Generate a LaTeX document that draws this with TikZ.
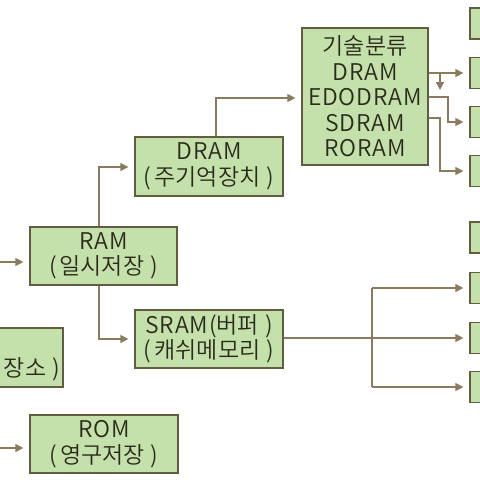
\documentclass[tikz,border=0pt]{standalone}
\usepackage{fontspec}
\setmainfont{Noto Sans CJK KR DemiLight}
\newfontfamily\lat[Scale=1.0,LetterSpace=4]{Noto Sans CJK KR DemiLight}
\usetikzlibrary{arrows.meta,calc}
\definecolor{boxfill}{HTML}{C4E1AC}
\definecolor{boxline}{HTML}{625C40}
\definecolor{arrowc}{HTML}{8B7A5C}
\definecolor{txt}{HTML}{2B2B1B}
\newcommand{\lp}{(\hspace{3pt}}
\newcommand{\rp}{\hspace{6pt})}
\begin{document}
\begin{tikzpicture}[x=1pt,y=-1pt,
  box/.style={draw=boxline, fill=boxfill, line width=1.3pt, inner sep=0pt, align=center,
    font=\fontsize{23}{25.5}\selectfont, text=txt},
  arr/.style={draw=arrowc, line width=1.3pt, -{Triangle[length=8pt,width=8pt]}, shorten >=6pt},
  ln/.style={draw=arrowc, line width=1.3pt}]
\useasboundingbox (0,0) rectangle (480,480);
\clip (0,0) rectangle (480,480);
% main boxes
\node[box, minimum width=147pt, minimum height=58pt] (ram) at (103.5,256) {{\lat RAM}\\\lp 일시저장\rp};
\node[box, minimum width=148pt, minimum height=59pt] (dram) at (209,166.5) {{\lat DRAM}\\\lp 주기억장치\rp};
\node[box, minimum width=148pt, minimum height=58pt] (sram) at (209,339) {{\lat SRAM(}버퍼\rp\\\lp 캐쉬메모리\rp};
\node[box, minimum width=148pt, minimum height=58pt] (rom) at (104,444) {{\lat ROM}\\\lp 영구저장\rp};
\node[box, minimum width=126pt, minimum height=137pt] (tech) at (365,96.5)
  {기술분류\\{\lat DRAM}\\{\lat EDODRAM}\\{\lat SDRAM}\\{\lat RORAM}};
\node[box, minimum width=148pt, minimum height=59pt] (left) at (-11,357.5) {};
\node[text=txt, font=\fontsize{23}{25.5}\selectfont, anchor=east, inner sep=0pt] (lefttxt) at (60,369) {장소\rp};
% right small boxes
\foreach \n/\y in {1/23.5,2/73,3/122,4/171,5/237.5,6/288,7/338,8/387}{
  \node[box, minimum width=40pt, minimum height=31pt] (b\n) at (490,\y) {};
}
% incoming arrows
\coordinate (in1) at (0,262);
\coordinate (in2) at (0,448);
\draw[arr] (in1) -- (in1 -| ram.west);
\draw[arr] (in2) -- (in2 -| rom.west);
% RAM branches
\coordinate (k1) at (99,167);
\coordinate (k2) at (99,339);
\draw[arr] (ram.north -| k1) -- (k1) -- (k1 -| dram.west);
\draw[arr] (ram.south -| k2) -- (k2) -- (k2 -| sram.west);
% DRAM to tech
\coordinate (k3) at (216,98);
\draw[arr] (dram.north -| k3) -- (k3) -- (k3 -| tech.west);
% tech to right boxes
\coordinate (j1) at (440,90);
\coordinate (j2) at (448,97);
\coordinate (j3) at (440,118);
\draw[arr] (tech.east |- b2) -- (b2.west);
\draw[arr, shorten >=0pt] (j1 |- b2) -- (j1);
\draw[arr] (tech.east |- j2) -- (j2) -- (j2 |- b3) -- (b3.west);
\draw[arr] (tech.east |- j3) -- (j3) -- (j3 |- b4) -- (b4.west);
% SRAM to right boxes
\coordinate (j4) at (372,338);
\draw[arr] (sram.east |- j4) -- (b7.west);
\draw[ln] (j4 |- b6) -- (j4 |- b8);
\draw[arr] (j4 |- b6) -- (b6.west);
\draw[arr] (j4 |- b8) -- (b8.west);
\end{tikzpicture}
\end{document}
